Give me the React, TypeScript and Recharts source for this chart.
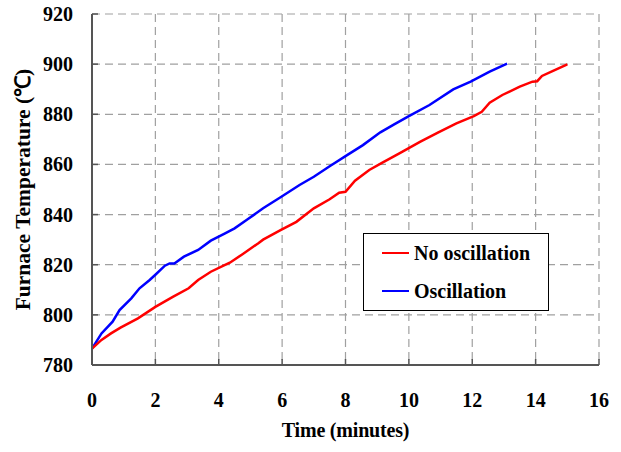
import React from "react";
import { LineChart, Line, XAxis, YAxis, CartesianGrid, Label } from "recharts";

// time in minutes, furnace temperature in °C
const noOscTime = [0, 0.3, 0.6, 0.9, 1.45, 2.0, 2.55, 3.05, 3.35, 3.75, 4.2, 4.35, 4.75, 5.25, 5.4, 5.95, 6.45, 7.0, 7.5, 7.8, 8.0, 8.3, 8.75, 9.15, 9.7, 10.35, 10.9, 11.5, 12.05, 12.3, 12.55, 12.95, 13.5, 13.9, 14.05, 14.2, 14.55, 15.0];
const noOscTemp = [786.5, 790, 792.6, 794.9, 798.6, 803.2, 807.2, 810.6, 813.9, 817.2, 819.9, 820.8, 824.2, 828.6, 830, 833.8, 837.1, 842.5, 846.1, 848.7, 849.1, 853.5, 857.8, 860.6, 864.4, 869.0, 872.6, 876.4, 879.3, 881.0, 884.6, 887.7, 891.0, 893.0, 893.2, 895.3, 897.3, 899.9];

const oscTime = [0, 0.3, 0.65, 0.87, 1.24, 1.5, 1.82, 2.0, 2.3, 2.45, 2.6, 2.9, 3.35, 3.75, 4.2, 4.5, 4.9, 5.4, 5.95, 6.55, 7.0, 7.5, 8.05, 8.55, 9.1, 9.55, 10.0, 10.65, 11.4, 11.95, 12.55, 13.1];
const oscTemp = [786.5, 792.6, 797.3, 801.9, 806.6, 810.6, 813.9, 816, 819.6, 820.5, 820.5, 823.2, 825.9, 829.6, 832.5, 834.5, 838, 842.5, 846.9, 851.8, 855.1, 859.3, 863.7, 867.7, 872.8, 876.1, 879.3, 883.7, 889.9, 893.0, 897.0, 900.2];

const xTicks = [0, 2, 4, 6, 8, 10, 12, 14, 16];
const yTicks = [780, 800, 820, 840, 860, 880, 900, 920];

const seriesNames = ["No oscillation", "Oscillation"];
const seriesColors = ["#ff0000", "#0000ff"];

const noOscData = noOscTime.map((t, i) => ({ t, v: noOscTemp[i] }));
const oscData = oscTime.map((t, i) => ({ t, v: oscTemp[i] }));

const FONT = "'Liberation Serif', 'Times New Roman', serif";
const AXIS = "#555";

const XTick = (props: any) => {
  const { x, y, payload } = props;
  const axisY = y - 28;
  return (
    <g>
      <line x1={x} y1={axisY} x2={x} y2={axisY - 6} stroke={AXIS} strokeWidth={1.5} />
      <text x={x} y={y} dy={14} textAnchor="middle" fontFamily={FONT} fontWeight="bold" fontSize={20} fill="#000">
        {payload.value}
      </text>
    </g>
  );
};

const YTick = (props: any) => {
  const { x, y, payload } = props;
  const axisX = x + 19;
  return (
    <g>
      <line x1={axisX} y1={y} x2={axisX + 6} y2={y} stroke={AXIS} strokeWidth={1.5} />
      <text x={x} y={y} dy={7} textAnchor="end" fontFamily={FONT} fontWeight="bold" fontSize={20} fill="#000">
        {payload.value}
      </text>
    </g>
  );
};

// legend box drawn over the plot, like the original
const LegendBox = () => (
  <div
    style={{
      position: "absolute",
      left: 363,
      top: 233,
      width: 184,
      height: 76,
      border: "1px solid #000",
      background: "#fff",
      fontFamily: FONT,
      fontWeight: "bold",
      fontSize: 20,
    }}
  >
    {seriesNames.map((name, i) => (
      <div key={name} style={{ display: "flex", alignItems: "center", height: 20, marginTop: i === 0 ? 9 : 18 }}>
        <div style={{ width: 27, height: 2.5, background: seriesColors[i], marginLeft: 18, marginRight: 5 }} />
        <span style={{ lineHeight: "20px" }}>{name}</span>
      </div>
    ))}
  </div>
);

export default function App() {
  return (
    <div style={{ position: "absolute", left: 0, top: 0, width: 621, height: 452, background: "#fff" }}>
      <LineChart width={621} height={452} margin={{ top: 14, right: 22, left: 0, bottom: 0 }}>
        <CartesianGrid stroke="#a0a0a0" strokeDasharray="8 5" strokeWidth={1.2} />
        <XAxis
          dataKey="t"
          type="number"
          domain={[0, 16]}
          ticks={xTicks}
          tickSize={0}
          tickMargin={28}
          tick={<XTick />}
          height={87}
          stroke={AXIS}
          strokeWidth={2}
          allowDuplicatedCategory={false}
        >
          <Label
            value="Time (minutes)"
            position="insideBottom"
            offset={15}
            style={{ fontFamily: FONT, fontWeight: "bold", fontSize: 20, fill: "#000", letterSpacing: -0.2 }}
          />
        </XAxis>
        <YAxis
          dataKey="v"
          type="number"
          domain={[780, 920]}
          ticks={yTicks}
          tickSize={0}
          tickMargin={19}
          tick={<YTick />}
          width={92}
          stroke={AXIS}
          strokeWidth={2}
        >
          <Label
            value="Furnace Temperature (℃)"
            angle={-90}
            position="insideLeft"
            offset={22}
            style={{ textAnchor: "middle", fontFamily: FONT, fontWeight: "bold", fontSize: 21.5, fill: "#000" }}
          />
        </YAxis>
        <Line
          data={oscData}
          dataKey="v"
          name={seriesNames[1]}
          stroke={seriesColors[1]}
          strokeWidth={2.5}
          dot={false}
          type="linear"
          isAnimationActive={false}
        />
        <Line
          data={noOscData}
          dataKey="v"
          name={seriesNames[0]}
          stroke={seriesColors[0]}
          strokeWidth={2.5}
          dot={false}
          type="linear"
          isAnimationActive={false}
        />
      </LineChart>
      <LegendBox />
    </div>
  );
}
